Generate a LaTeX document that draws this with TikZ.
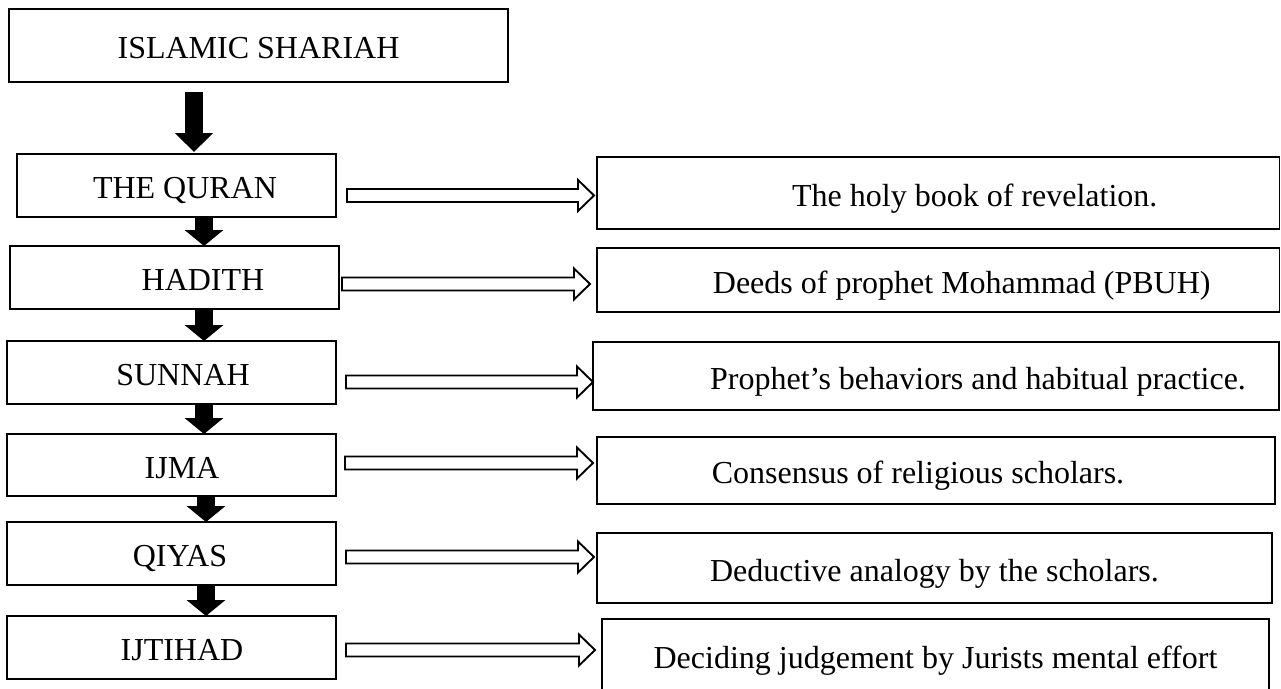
\documentclass[tikz,border=0pt]{standalone}
\usepackage{fontspec}
\setmainfont{Liberation Serif}
\usetikzlibrary{arrows.meta,calc}
\tikzset{
  box/.style={draw=black, line width=1.9pt, fill=white, inner sep=0pt, outer sep=0pt,
    rectangle, font=\fontsize{32}{36}\selectfont, text=black, text height=26pt, text depth=0pt},
  bigarrow/.style={draw=black, line width=18pt, -{Triangle[length=16pt,width=38pt]}},
  hollow/.style={draw=black, line width=1.9pt, fill=white, line join=miter},
}
\newcommand\harrow[5]{%
  \draw[hollow] let \p1=(#1.east), \p2=(#2.west), \p3=(#3) in
    (\x1+#4pt,\y3+6.5pt) -- (\x2-#5pt-16pt,\y3+6.5pt) -- (\x2-#5pt-16pt,\y3+15.5pt)
    -- (\x2-#5pt,\y3) -- (\x2-#5pt-16pt,\y3-15.5pt) -- (\x2-#5pt-16pt,\y3-6.5pt)
    -- (\x1+#4pt,\y3-6.5pt) -- cycle;}
\begin{document}
\begin{tikzpicture}[x=1pt,y=-1pt]
\useasboundingbox (0,0) rectangle (1281,688);
\clip (0,0) rectangle (1281,688);
\fill[white] (0,0) rectangle (1281,688);

% left column
\node[box, minimum width=499pt, minimum height=73pt] (top) at (258.5,45.5) {ISLAMIC SHARIAH};
\node[box, minimum width=319pt, minimum height=63pt] (quran) at (176.5,185.5) {\hspace*{17pt}THE QURAN};
\node[box, minimum width=329pt, minimum height=63pt] (hadith) at (174.5,277.5) {\hspace*{57pt}HADITH};
\node[box, minimum width=329pt, minimum height=63pt] (sunnah) at (171.5,372.5) {\hspace*{23pt}SUNNAH};
\node[box, minimum width=329pt, minimum height=62pt] (ijma) at (171.5,465) {\hspace*{21pt}IJMA};
\node[box, minimum width=329pt, minimum height=63pt] (qiyas) at (171.5,553.5) {\hspace*{17pt}QIYAS};
\node[box, minimum width=329pt, minimum height=63pt] (ijtihad) at (171.5,647.5) {\hspace*{21pt}IJTIHAD};

% right column
\node[box, minimum width=682.5pt, minimum height=72pt] (r1) at (938.25,193) {\hspace*{73pt}The holy book of revelation.};
\node[box, minimum width=682.5pt, minimum height=64pt] (r2) at (938.25,280) {\hspace*{47pt}Deeds of prophet Mohammad (PBUH)};
\node[box, minimum width=686pt, minimum height=68pt] (r3) at (936,376) {\hspace*{84pt}Prophet’s behaviors and habitual practice.};
\node[box, minimum width=678pt, minimum height=67pt] (r4) at (936,470.5) {Consensus of religious scholars.\hspace*{36pt}};
\node[box, minimum width=675pt, minimum height=70pt] (r5) at (934.5,568) {Deductive analogy by the scholars.};
\node[box, minimum width=667pt, minimum height=73pt] (r6) at (935.5,655.5) {Deciding judgement by Jurists mental effort};

% columns for black arrows
\coordinate (c1) at (194,0);
\coordinate (c2) at (204,0);
\coordinate (c3) at (206,0);
\draw[bigarrow, -{Triangle[length=19pt,width=37pt]}, shorten <=10pt, shorten >=2pt] (top.south -| c1) -- (quran.north -| c1);
\draw[bigarrow] (quran.south -| c2) -- (hadith.north -| c2);
\draw[bigarrow] (hadith.south -| c2) -- (sunnah.north -| c2);
\draw[bigarrow] (sunnah.south -| c2) -- (ijma.north -| c2);
\draw[bigarrow] (ijma.south -| c3) -- (qiyas.north -| c3);
\draw[bigarrow] (qiyas.south -| c3) -- (ijtihad.north -| c3);

% heights of hollow arrows
\coordinate (h1) at (0,195.5);
\coordinate (h2) at (0,284);
\coordinate (h3) at (0,382);
\coordinate (h4) at (0,463);
\coordinate (h5) at (0,557);
\coordinate (h6) at (0,650);
\harrow{quran}{r1}{h1}{11}{3}
\harrow{hadith}{r2}{h2}{3}{7}
\harrow{sunnah}{r3}{h3}{10}{0}
\harrow{ijma}{r4}{h4}{9}{4}
\harrow{qiyas}{r5}{h5}{10}{3}
\harrow{ijtihad}{r6}{h6}{10}{7}
\end{tikzpicture}
\end{document}
